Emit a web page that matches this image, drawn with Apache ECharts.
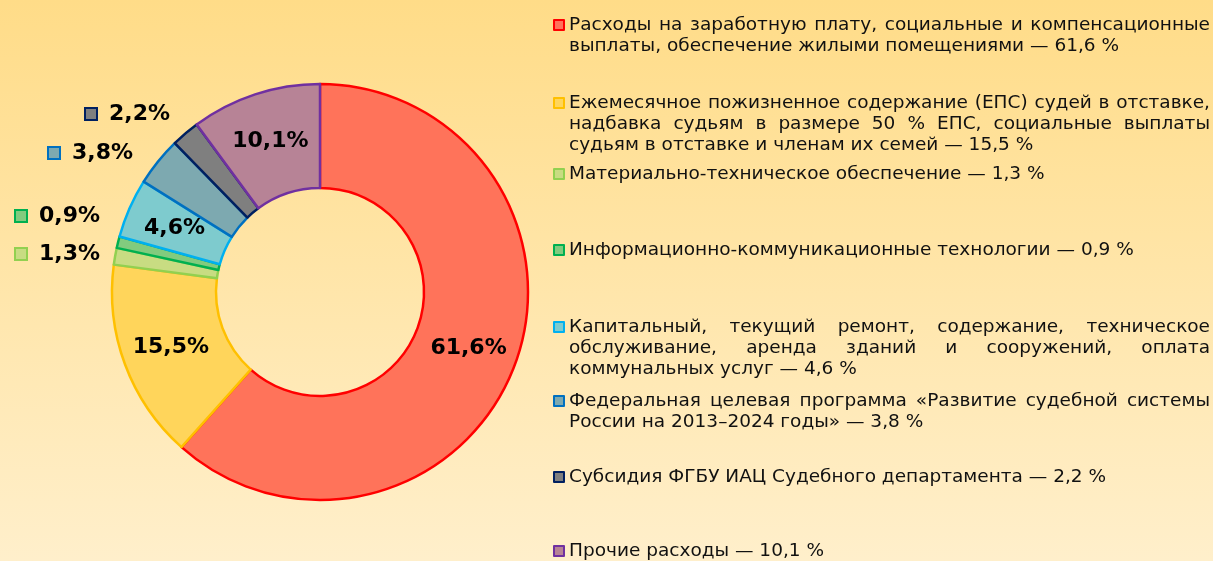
<!DOCTYPE html>
<html>
<head>
<meta charset="utf-8">
<script src="https://cdn.jsdelivr.net/npm/echarts@6/dist/echarts.min.js"></script>
<style>
  html, body { margin: 0; padding: 0; }
  #chart { width: 1213px; height: 561px; }
</style>
</head>
<body>
<div id="chart"></div>
<script>
// legend texts, split into lines as in the picture
var legendLines = [
    ['Расходы на заработную плату, социальные и компенсационные',
     'выплаты, обеспечение жилыми помещениями — 61,6 %'],
    ['Ежемесячное пожизненное содержание (ЕПС) судей в отставке,',
     'надбавка судьям в размере 50 % ЕПС, социальные выплаты',
     'судьям в отставке и членам их семей — 15,5 %'],
    ['Материально-техническое обеспечение — 1,3 %'],
    ['Информационно-коммуникационные технологии — 0,9 %'],
    ['Капитальный, текущий ремонт, содержание, техническое',
     'обслуживание, аренда зданий и сооружений, оплата',
     'коммунальных услуг — 4,6 %'],
    ['Федеральная целевая программа «Развитие судебной системы',
     'России на 2013–2024 годы» — 3,8 %'],
    ['Субсидия ФГБУ ИАЦ Судебного департамента — 2,2 %'],
    ['Прочие расходы — 10,1 %']
];
var values = [61.6, 15.5, 1.3, 0.9, 4.6, 3.8, 2.2, 10.1];
var fills = ['#FF735A', '#FFD55B', '#C8DC82', '#82CB7E', '#7ECBCE', '#7DA9B0', '#7F7F7F', '#B78396'];
var borders = ['#FF0000', '#FFC000', '#92D050', '#00B050', '#00B0F0', '#0070C0', '#002060', '#7030A0'];

var names = legendLines.map(function(l) { return l.join(' '); });

// layout
var legendIconY = [25, 103, 174, 250, 327, 401, 477, 551];
var outsideLabels = { 2: [16, 254], 3: [16, 216], 5: [49, 153], 6: [86, 114] };
var LINE_H = 21;
var LEGEND_FONT_FAMILY = 'DejaVu Sans';
var LEGEND_FONT_SIZE = 18.5;
var LEGEND_WIDTH = 641;

// выравнивание по ширине (justify) via rich spacer tokens
var ctx = document.createElement('canvas').getContext('2d');
ctx.font = LEGEND_FONT_SIZE + "px '" + LEGEND_FONT_FAMILY + "'";

function justify(lines, key, rich) {
    return lines.map(function(line, li) {
        var words = line.split(' ');
        if (li === lines.length - 1 || words.length < 2) return line;
        var total = 0;
        words.forEach(function(w) { total += ctx.measureText(w).width; });
        var gap = Math.max(3, (LEGEND_WIDTH - total) / (words.length - 1));
        var sname = key + 'g' + li;
        rich[sname] = { width: gap, fontSize: LEGEND_FONT_SIZE, lineHeight: LINE_H, fontFamily: LEGEND_FONT_FAMILY };
        return words.join('{' + sname + '| }');
    }).join('\n');
}

function fmtValue(v) { return String(v).replace('.', ',') + '%'; }

var legends = names.map(function(name, i) {
    var n = legendLines[i].length;
    var rich = {};
    var text = justify(legendLines[i], 'k' + i, rich);
    return {
        left: 553,
        top: legendIconY[i] - (2 * n - 1) * LINE_H / 2,
        orient: 'vertical',
        padding: 0,
        selectedMode: false,
        icon: 'rect',
        itemWidth: 10,
        itemHeight: 10,
        data: [{ name: name, itemStyle: { color: fills[i], borderColor: borders[i], borderWidth: 2 } }],
        formatter: function() { return text; },
        textStyle: {
            fontFamily: LEGEND_FONT_FAMILY,
            fontSize: LEGEND_FONT_SIZE,
            lineHeight: LINE_H,
            color: '#111',
            padding: [(n - 1) * LINE_H, 0, 0, 0],
            rich: rich
        }
    };
});

var seriesData = values.map(function(v, i) {
    var item = {
        value: v,
        name: names[i],
        itemStyle: { color: fills[i], borderColor: borders[i], borderWidth: 2.5 }
    };
    if (outsideLabels[i]) {
        item.label = {
            position: 'outside',
            formatter: '{box|}{t|' + fmtValue(v) + '}',
            rich: {
                box: { width: 10, height: 10, backgroundColor: fills[i], borderColor: borders[i], borderWidth: 2 },
                t: { fontFamily: 'DejaVu Sans', fontWeight: 'bold', fontSize: 22, color: '#000', padding: [0, 0, 0, 13] }
            }
        };
    }
    return item;
});

var option = {
    backgroundColor: new echarts.graphic.LinearGradient(0, 0, 0, 1, [
        { offset: 0, color: '#FFDC88' },
        { offset: 1, color: '#FFEFCB' }
    ]),
    animation: false,
    legend: legends,
    series: [{
        type: 'pie',
        center: [320, 292],
        radius: [104, 208],
        startAngle: 90,
        clockwise: true,
        avoidLabelOverlap: false,
        label: {
            show: true,
            position: 'inside',
            formatter: function(p) { return fmtValue(p.value); },
            fontFamily: 'DejaVu Sans',
            fontWeight: 'bold',
            fontSize: 22,
            color: '#000'
        },
        labelLine: { show: false },
        labelLayout: function(p) {
            var pos = outsideLabels[p.dataIndex];
            if (!pos) return {};
            return { x: pos[0], y: pos[1], align: 'left', verticalAlign: 'middle' };
        },
        emphasis: { disabled: true },
        data: seriesData
    }]
};

var myChart = echarts.init(document.getElementById('chart'));
myChart.setOption(option);
</script>
</body>
</html>
